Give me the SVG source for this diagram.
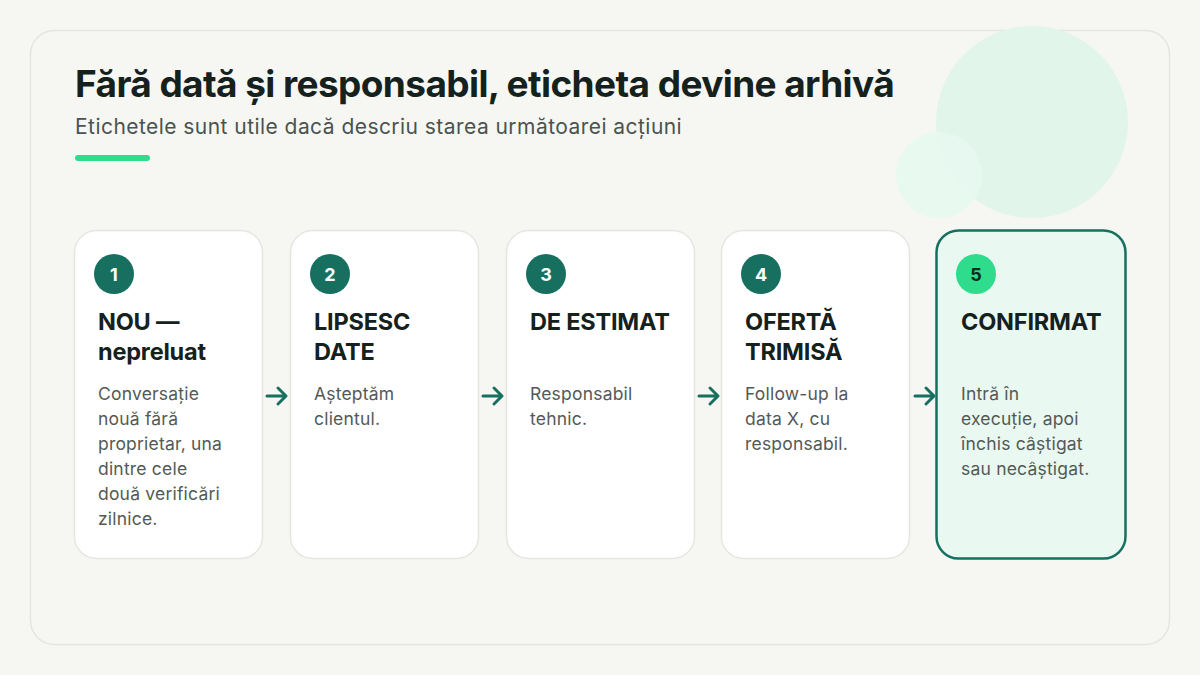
<svg xmlns="http://www.w3.org/2000/svg" width="1200" height="675" viewBox="0 0 1200 675">
  <defs>
    <style>
      .bg { fill: #f6f6f2; }
      .frame { fill: #f6f7f3; stroke: #e4e5e0; stroke-width: 1.5; }
      .card { fill: #ffffff; stroke: #e6e6e1; stroke-width: 1.5; }
      .card-active { fill: #e9f8f1; stroke: #17705f; stroke-width: 2.5; }
      .badge { fill: #17705f; }
      .badge-active { fill: #2fdc8c; }
      .num { font-family: Inter, "Liberation Sans", sans-serif; font-size: 18px; font-weight: 700; fill: #ffffff; text-anchor: middle; }
      .num-active { fill: #0e2a1f; }
      .title { font-family: Inter, "Liberation Sans", sans-serif; font-size: 37px; font-weight: 700; fill: #15211c; letter-spacing: -0.6px; }
      .subtitle { font-family: Inter, "Liberation Sans", sans-serif; font-size: 21px; fill: #4a534f; letter-spacing: 0.45px; }
      .head { font-family: Inter, "Liberation Sans", sans-serif; font-size: 23.5px; font-weight: 700; fill: #15211c; letter-spacing: -0.2px; }
      .body { font-family: Inter, "Liberation Sans", sans-serif; font-size: 17.5px; fill: #535a56; letter-spacing: 0.2px; }
      .arrow { fill: none; stroke: #17705f; stroke-width: 3; stroke-linecap: round; stroke-linejoin: round; }
    </style>
  </defs>
  <rect class="bg" x="0" y="0" width="1200" height="675"/>
  <rect class="frame" x="30.5" y="30.5" width="1139" height="614" rx="24"/>
  <circle cx="1032" cy="122" r="96" fill="#e1f5eb"/>
  <circle cx="939" cy="175" r="43" fill="#e7f8f0" opacity="0.9"/>

  <g id="header">
    <text class="title" x="75" y="97">Fără dată și responsabil, eticheta devine arhivă</text>
    <text class="subtitle" x="75" y="134">Etichetele sunt utile dacă descriu starea următoarei acțiuni</text>
    <rect x="75" y="155" width="75" height="6" rx="3" fill="#2fdc8c"/>
  </g>

  <g id="connectors">
    <path class="arrow" d="M267 396 H285 M278 388 L286 396 L278 404"/>
    <path class="arrow" d="M483 396 H501 M494 388 L502 396 L494 404"/>
    <path class="arrow" d="M699 396 H717 M710 388 L718 396 L710 404"/>
    <path class="arrow" d="M915 396 H933 M926 388 L934 396 L926 404"/>
  </g>

  <g id="node1">
    <rect class="card" x="74.5" y="230.5" width="188" height="328" rx="22"/>
    <circle class="badge" cx="114" cy="274" r="20"/>
    <text class="num" x="114" y="280.5">1</text>
    <text class="head" x="98" y="330">NOU —</text>
    <text class="head" x="98" y="360">nepreluat</text>
    <text class="body" x="98" y="400">Conversație</text>
    <text class="body" x="98" y="425">nouă fără</text>
    <text class="body" x="98" y="450">proprietar, una</text>
    <text class="body" x="98" y="475">dintre cele</text>
    <text class="body" x="98" y="500">două verificări</text>
    <text class="body" x="98" y="525">zilnice.</text>
  </g>

  <g id="node2">
    <rect class="card" x="290.5" y="230.5" width="188" height="328" rx="22"/>
    <circle class="badge" cx="330" cy="274" r="20"/>
    <text class="num" x="330" y="280.5">2</text>
    <text class="head" x="314" y="330">LIPSESC</text>
    <text class="head" x="314" y="360">DATE</text>
    <text class="body" x="314" y="400">Așteptăm</text>
    <text class="body" x="314" y="425">clientul.</text>
  </g>

  <g id="node3">
    <rect class="card" x="506.5" y="230.5" width="188" height="328" rx="22"/>
    <circle class="badge" cx="546" cy="274" r="20"/>
    <text class="num" x="546" y="280.5">3</text>
    <text class="head" x="530" y="330">DE ESTIMAT</text>
    <text class="body" x="530" y="400">Responsabil</text>
    <text class="body" x="530" y="425">tehnic.</text>
  </g>

  <g id="node4">
    <rect class="card" x="721.5" y="230.5" width="188" height="328" rx="22"/>
    <circle class="badge" cx="761" cy="274" r="20"/>
    <text class="num" x="761" y="280.5">4</text>
    <text class="head" x="745" y="330">OFERTĂ</text>
    <text class="head" x="745" y="360">TRIMISĂ</text>
    <text class="body" x="745" y="400">Follow-up la</text>
    <text class="body" x="745" y="425">data X, cu</text>
    <text class="body" x="745" y="450">responsabil.</text>
  </g>

  <g id="node5">
    <rect class="card-active" x="936.5" y="230.5" width="189" height="328" rx="22"/>
    <circle class="badge-active" cx="976" cy="274" r="20"/>
    <text class="num num-active" x="976" y="280.5">5</text>
    <text class="head" x="961" y="330">CONFIRMAT</text>
    <text class="body" x="961" y="400">Intră în</text>
    <text class="body" x="961" y="425">execuție, apoi</text>
    <text class="body" x="961" y="450">închis câștigat</text>
    <text class="body" x="961" y="475">sau necâștigat.</text>
  </g>
</svg>
